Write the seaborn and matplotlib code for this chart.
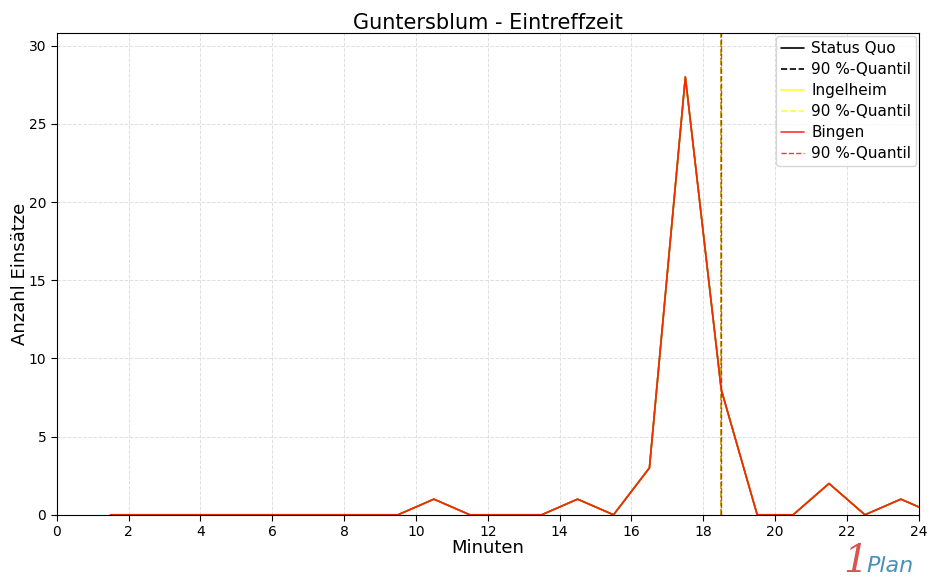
import numpy as np
import pandas as pd
import matplotlib
matplotlib.use("Agg")
import matplotlib.pyplot as plt
import seaborn as sns

# Eintreffzeit-Verteilung (Minuten-Klassenmitten und Anzahl Einsaetze)
minuten = [1.5, 2.5, 3.5, 4.5, 5.5, 6.5, 7.5, 8.5, 9.5, 10.5, 11.5, 12.5,
           13.5, 14.5, 15.5, 16.5, 17.5, 18.5, 19.5, 20.5, 21.5, 22.5, 23.5, 24.5]
status_quo = [0, 0, 0, 0, 0, 0, 0, 0, 0, 1, 0, 0, 0, 1, 0, 3, 28, 8, 0, 0, 2, 0, 1, 0]
ingelheim = list(status_quo)
bingen = list(status_quo)
quantil_sq = 18.5
quantil_ing = 18.5
quantil_bin = 18.5

sns.set_style("whitegrid", {"text.color": "black", "axes.labelcolor": "black",
                            "xtick.color": "black", "ytick.color": "black"})
plt.rcParams['font.family'] = ['DejaVu Sans']

fig, ax = plt.subplots(figsize=(9.3, 5.83), dpi=100)
fig.subplots_adjust(left=0.061, right=0.988, top=0.943, bottom=0.117)

df = pd.DataFrame({"Minuten": minuten, "Status Quo": status_quo,
                   "Ingelheim": ingelheim, "Bingen": bingen})

sns.lineplot(data=df, x="Minuten", y="Status Quo", ax=ax, color="black",
             linewidth=1.2, label="Status Quo")
ax.axvline(quantil_sq, color="black", linestyle="--", linewidth=1.2, label="90 %-Quantil")
sns.lineplot(data=df, x="Minuten", y="Ingelheim", ax=ax, color="yellow",
             linewidth=1.2, alpha=0.8, label="Ingelheim")
ax.axvline(quantil_ing, color="yellow", linestyle="--", linewidth=1.2, alpha=0.8, label="90 %-Quantil")
sns.lineplot(data=df, x="Minuten", y="Bingen", ax=ax, color="red",
             linewidth=1.2, alpha=0.8, label="Bingen")
ax.axvline(quantil_bin, color="red", linestyle="--", linewidth=1.0, alpha=0.8, label="90 %-Quantil")

ax.set_xlim(0, 24)
ax.set_ylim(0, max(status_quo) * 1.1)
ax.set_xticks(range(0, 25, 2))
ax.set_yticks(range(0, 31, 5))
ax.tick_params(axis="both", labelsize=10, length=4, color="black", left=True, bottom=True)
ax.grid(True, color="#e0e0e0", linestyle="--", linewidth=0.7)
for s in ax.spines.values():
    s.set_color("black")
    s.set_linewidth(0.8)

ax.set_title("Guntersblum - Eintreffzeit", fontsize=15, color="black", pad=3)
ax.set_xlabel("Minuten", fontsize=13, labelpad=0)
ax.set_ylabel("Anzahl Einsätze", fontsize=13, labelpad=0)
leg = ax.legend(loc="upper right", fontsize=11, framealpha=0.8, borderpad=0.3,
                handlelength=1.5, labelspacing=0.4, borderaxespad=0.2, handletextpad=0.5)

# Logo unten rechts
fig.text(0.907, 0.005, "1", color="#d9534f", fontsize=28, style="italic",
         ha="left", va="bottom", family="DejaVu Serif")
fig.text(0.932, 0.012, "Plan", color="#4a90b8", fontsize=16, style="italic",
         ha="left", va="bottom")

fig.savefig("out.png", dpi=100)
